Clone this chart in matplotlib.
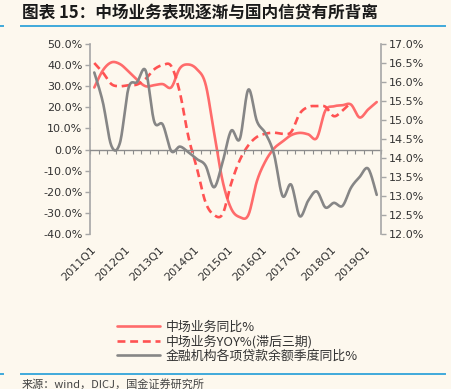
import numpy as np
import matplotlib
matplotlib.use("Agg")
import matplotlib.pyplot as plt
from matplotlib.ticker import FuncFormatter, MultipleLocator, FixedLocator

# ── data ─────────────────────────────────────────────────────────────────────
quarters = [f"{y}Q{q}" for y in range(2011, 2020) for q in range(1, 5)][:34]
tick_labels = ["2011Q1", "2012Q1", "2013Q1", "2014Q1", "2015Q1",
               "2016Q1", "2017Q1", "2018Q1", "2019Q1"]

midfield_yoy = [29.4, 37.5, 41.3, 40.5, 37, 33, 30, 30.5, 31, 29.5,
                38.5, 40.3, 38, 31, 8, -15, -28, -32, -31, -15,
                -5.5, 0.5, 3.8, 6.8, 7.9, 7.2, 5.5, 18.5, 20.5, 21,
                21.3, 15.2, 19, 22.5]
midfield_lag3 = [41, 36.5, 31, 30, 30.5, 30.8, 33.5, 38, 40, 39.5,
                 27, 6, -9, -25, -31, -30.5, -16, -5, 2, 6,
                 7.5, 8, 7.5, 8.3, 17, 20.2, 20.6, 20.3, 15.8, 18.5,
                 22.3]
loan_yoy = [16.25, 15.47, 14.32, 14.4, 15.84, 16.0, 16.3, 14.96, 14.88, 14.18,
            14.3, 14.15, 13.97, 13.8, 13.23, 13.9, 14.72, 14.5, 15.8, 14.97,
            14.65, 14.1, 13.0, 13.3, 12.47, 12.88, 13.12, 12.7, 12.82, 12.74,
            13.22, 13.5, 13.72, 13.03]

labels = ["中场业务同比%", "中场业务YOY%(滞后三期)", "金融机构各项贷款余额季度同比%"]

# ── style ────────────────────────────────────────────────────────────────────
BG = "#FDF8EE"
RED = "#FF6B6B"; RED_D = "#FF5252"
GRAY = "#868686"
SPINE = "#A6A6A6"
TXT = "#333333"
BLUE = "#3FA9DB"
CJK = ["Noto Sans CJK SC", "DejaVu Sans"]

plt.rcParams.update({"font.family": ["DejaVu Sans", "Noto Sans CJK SC"],
                     "font.size": 8})


def smooth(vals, n=16):
    """Excel-style smoothed line (Catmull-Rom through every point)."""
    pts = np.column_stack([np.arange(len(vals), dtype=float), np.asarray(vals, float)])
    ext = np.vstack([pts[0], pts, pts[-1]])
    segs = []
    for i in range(len(pts) - 1):
        p0, p1, p2, p3 = ext[i], ext[i + 1], ext[i + 2], ext[i + 3]
        c1 = p1 + (p2 - p0) / 6
        c2 = p2 - (p3 - p1) / 6
        t = np.linspace(0, 1, n, endpoint=(i == len(pts) - 2))[:, None]
        segs.append((1 - t) ** 3 * p1 + 3 * (1 - t) ** 2 * t * c1
                    + 3 * (1 - t) * t ** 2 * c2 + t ** 3 * p2)
    a = np.vstack(segs)
    return a[:, 0], a[:, 1]


fig = plt.figure(figsize=(4.52, 3.89), dpi=100, facecolor=BG)
W, H = 452, 389

# title + rules
fig.text(22 / W, 1 - 12 / H, "图表 15：中场业务表现逐渐与国内信贷有所背离",
         family=CJK, fontsize=12, fontweight="bold", color="#1A1A1A",
         ha="left", va="center")
for y in (25.5, 374):
    fig.add_artist(plt.Line2D([21 / W, 445 / W], [1 - y / H] * 2, color=BLUE, lw=1.4))
    fig.add_artist(plt.Line2D([0, 3 / W], [1 - y / H] * 2, color=BLUE, lw=1.4))
fig.text(22 / W, 1 - 384 / H, "来源：wind，DICJ，国金证券研究所",
         family=CJK, fontsize=8, color="#444444", ha="left", va="center")

ax = fig.add_axes([90 / W, 1 - 234 / H, 291 / W, 190 / H])
ax.set_facecolor("none")
ax2 = ax.twinx()

l1, = ax.plot(*smooth(midfield_yoy), color=RED, lw=1.9, solid_capstyle="round")
l2, = ax.plot(*smooth(midfield_lag3), color=RED_D, lw=1.9, linestyle=(0, (3, 1.8)))
l3, = ax2.plot(*smooth(loan_yoy), color=GRAY, lw=1.9, solid_capstyle="round")

ax.set_xlim(-0.5, len(quarters) - 0.5)
ax.set_ylim(-40, 50)
ax2.set_ylim(12, 17)
ax.yaxis.set_major_locator(MultipleLocator(10))
ax2.yaxis.set_major_locator(MultipleLocator(0.5))
ax.yaxis.set_major_formatter(FuncFormatter(lambda v, p: f"{v:.1f}%"))
ax2.yaxis.set_major_formatter(FuncFormatter(lambda v, p: f"{v:.1f}%"))

for a in (ax, ax2):
    for s in ("top", "bottom", "left", "right"):
        a.spines[s].set_visible(False)
ax.spines["left"].set_visible(True)
ax2.spines["right"].set_visible(True)
ax.spines["left"].set_color(SPINE); ax.spines["left"].set_linewidth(1.2)
ax2.spines["right"].set_color(SPINE); ax2.spines["right"].set_linewidth(1.2)
ax.tick_params(axis="y", length=3.5, width=1, color=SPINE, labelcolor=TXT, labelsize=8, pad=2)
ax2.tick_params(axis="y", length=3.5, width=1, color=SPINE, labelcolor=TXT, labelsize=8, pad=2)

# category axis drawn at 0 %, with quarterly tick marks
ax.spines["bottom"].set_visible(True)
ax.spines["bottom"].set_position(("data", 0))
ax.spines["bottom"].set_color("#8C8C8C")
ax.spines["bottom"].set_linewidth(1.0)
ax.xaxis.set_major_locator(FixedLocator(np.arange(-0.5, len(quarters), 1)))
ax.xaxis.set_major_formatter(FuncFormatter(lambda v, p: ""))
ax.tick_params(axis="x", length=3, width=0.8, color="#8C8C8C", direction="out")

sec = ax.secondary_xaxis(0.0)
for s in sec.spines.values():
    s.set_visible(False)
sec.set_xticks([quarters.index(t) for t in tick_labels], tick_labels)
sec.tick_params(axis="x", length=0, pad=10, labelsize=8, labelcolor=TXT)
for lab in sec.get_xticklabels():
    lab.set_rotation(45)
    lab.set_ha("right")
    lab.set_va("center")
    lab.set_rotation_mode("anchor")

fig.legend([l1, l2, l3], labels, loc="upper left",
           bbox_to_anchor=(117 / W, 1 - 321 / H), frameon=False,
           prop={"family": CJK, "size": 9.3}, labelcolor=TXT,
           handlelength=3.3, handletextpad=0.5, labelspacing=0.08,
           borderpad=0, borderaxespad=0)

fig.savefig("out.png", dpi=100, facecolor=BG)
